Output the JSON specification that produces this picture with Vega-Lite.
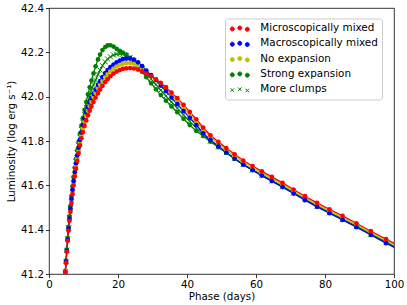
{
  "$schema": "https://vega.github.io/schema/vega-lite/v6.json",
  "autosize": {"type": "none"},
  "padding": {"left": 49, "top": 8, "right": 13, "bottom": 31},
  "width": 345,
  "height": 266,
  "config": {
    "font": "DejaVu Sans",
    "view": {"stroke": "#000000", "strokeWidth": 0.8},
    "axis": {
      "grid": false, "domain": false, "tickColor": "#000000", "tickWidth": 0.8, "tickSize": 3.5,
      "labelColor": "#000000", "labelFontSize": 10.3, "titleColor": "#000000", "titleFontSize": 10.3,
      "titleFontWeight": "normal", "labelFont": "DejaVu Sans", "titleFont": "DejaVu Sans"
    }
  },
  "data": {
    "values": [
      {"t": 4.51, "More clumps": 41.165, "Strong expansion": 41.165, "No expansion": 41.165, "Macroscopically mixed": 41.165, "Microscopically mixed": 41.165},
      {"t": 4.72, "More clumps": 41.21, "Strong expansion": 41.21, "No expansion": 41.21, "Macroscopically mixed": 41.21, "Microscopically mixed": 41.21},
      {"t": 4.94, "More clumps": 41.257, "Strong expansion": 41.26, "No expansion": 41.252, "Macroscopically mixed": 41.255, "Microscopically mixed": 41.25},
      {"t": 5.17, "More clumps": 41.307, "Strong expansion": 41.31, "No expansion": 41.302, "Macroscopically mixed": 41.305, "Microscopically mixed": 41.3},
      {"t": 5.41, "More clumps": 41.358, "Strong expansion": 41.362, "No expansion": 41.352, "Macroscopically mixed": 41.355, "Microscopically mixed": 41.35},
      {"t": 5.67, "More clumps": 41.408, "Strong expansion": 41.413, "No expansion": 41.4, "Macroscopically mixed": 41.405, "Microscopically mixed": 41.395},
      {"t": 5.93, "More clumps": 41.455, "Strong expansion": 41.46, "No expansion": 41.445, "Macroscopically mixed": 41.45, "Microscopically mixed": 41.44},
      {"t": 6.21, "More clumps": 41.5, "Strong expansion": 41.506, "No expansion": 41.487, "Macroscopically mixed": 41.495, "Microscopically mixed": 41.48},
      {"t": 6.51, "More clumps": 41.546, "Strong expansion": 41.552, "No expansion": 41.53, "Macroscopically mixed": 41.54, "Microscopically mixed": 41.52},
      {"t": 6.81, "More clumps": 41.587, "Strong expansion": 41.595, "No expansion": 41.57, "Macroscopically mixed": 41.58, "Microscopically mixed": 41.56},
      {"t": 7.13, "More clumps": 41.628, "Strong expansion": 41.638, "No expansion": 41.61, "Macroscopically mixed": 41.62, "Microscopically mixed": 41.6},
      {"t": 7.47, "More clumps": 41.669, "Strong expansion": 41.68, "No expansion": 41.65, "Macroscopically mixed": 41.66, "Microscopically mixed": 41.64},
      {"t": 7.82, "More clumps": 41.708, "Strong expansion": 41.72, "No expansion": 41.687, "Macroscopically mixed": 41.7, "Microscopically mixed": 41.675},
      {"t": 8.18, "More clumps": 41.745, "Strong expansion": 41.758, "No expansion": 41.722, "Macroscopically mixed": 41.735, "Microscopically mixed": 41.71},
      {"t": 8.57, "More clumps": 41.781, "Strong expansion": 41.796, "No expansion": 41.757, "Macroscopically mixed": 41.77, "Microscopically mixed": 41.745},
      {"t": 8.97, "More clumps": 41.817, "Strong expansion": 41.833, "No expansion": 41.792, "Macroscopically mixed": 41.805, "Microscopically mixed": 41.78},
      {"t": 9.4, "More clumps": 41.852, "Strong expansion": 41.87, "No expansion": 41.825, "Macroscopically mixed": 41.838, "Microscopically mixed": 41.812},
      {"t": 9.8, "More clumps": 41.885, "Strong expansion": 41.903, "No expansion": 41.857, "Macroscopically mixed": 41.872, "Microscopically mixed": 41.84},
      {"t": 10.3, "More clumps": 41.92, "Strong expansion": 41.94, "No expansion": 41.888, "Macroscopically mixed": 41.902, "Microscopically mixed": 41.868},
      {"t": 10.8, "More clumps": 41.952, "Strong expansion": 41.976, "No expansion": 41.913, "Macroscopically mixed": 41.93, "Microscopically mixed": 41.893},
      {"t": 11.3, "More clumps": 41.98, "Strong expansion": 42.01, "No expansion": 41.937, "Macroscopically mixed": 41.953, "Microscopically mixed": 41.916},
      {"t": 11.8, "More clumps": 42.006, "Strong expansion": 42.042, "No expansion": 41.958, "Macroscopically mixed": 41.974, "Microscopically mixed": 41.937},
      {"t": 12.3, "More clumps": 42.03, "Strong expansion": 42.073, "No expansion": 41.977, "Macroscopically mixed": 41.993, "Microscopically mixed": 41.956},
      {"t": 12.9, "More clumps": 42.053, "Strong expansion": 42.105, "No expansion": 41.998, "Macroscopically mixed": 42.013, "Microscopically mixed": 41.976},
      {"t": 13.5, "More clumps": 42.075, "Strong expansion": 42.137, "No expansion": 42.017, "Macroscopically mixed": 42.032, "Microscopically mixed": 41.995},
      {"t": 14.2, "More clumps": 42.1, "Strong expansion": 42.168, "No expansion": 42.038, "Macroscopically mixed": 42.053, "Microscopically mixed": 42.015},
      {"t": 14.8, "More clumps": 42.12, "Strong expansion": 42.19, "No expansion": 42.054, "Macroscopically mixed": 42.07, "Microscopically mixed": 42.032},
      {"t": 15.5, "More clumps": 42.14, "Strong expansion": 42.21, "No expansion": 42.071, "Macroscopically mixed": 42.088, "Microscopically mixed": 42.049},
      {"t": 16.3, "More clumps": 42.157, "Strong expansion": 42.224, "No expansion": 42.088, "Macroscopically mixed": 42.106, "Microscopically mixed": 42.066},
      {"t": 17.0, "More clumps": 42.17, "Strong expansion": 42.231, "No expansion": 42.102, "Macroscopically mixed": 42.12, "Microscopically mixed": 42.079},
      {"t": 17.8, "More clumps": 42.18, "Strong expansion": 42.232, "No expansion": 42.115, "Macroscopically mixed": 42.133, "Microscopically mixed": 42.092},
      {"t": 18.7, "More clumps": 42.188, "Strong expansion": 42.226, "No expansion": 42.127, "Macroscopically mixed": 42.145, "Microscopically mixed": 42.104},
      {"t": 19.6, "More clumps": 42.192, "Strong expansion": 42.216, "No expansion": 42.137, "Macroscopically mixed": 42.155, "Microscopically mixed": 42.113},
      {"t": 20.5, "More clumps": 42.193, "Strong expansion": 42.207, "No expansion": 42.144, "Macroscopically mixed": 42.163, "Microscopically mixed": 42.12},
      {"t": 21.4, "More clumps": 42.191, "Strong expansion": 42.199, "No expansion": 42.148, "Macroscopically mixed": 42.169, "Microscopically mixed": 42.125},
      {"t": 22.4, "More clumps": 42.186, "Strong expansion": 42.19, "No expansion": 42.151, "Macroscopically mixed": 42.172, "Microscopically mixed": 42.128},
      {"t": 23.5, "More clumps": 42.177, "Strong expansion": 42.175, "No expansion": 42.152, "Macroscopically mixed": 42.172, "Microscopically mixed": 42.129},
      {"t": 24.6, "More clumps": 42.163, "Strong expansion": 42.158, "No expansion": 42.149, "Macroscopically mixed": 42.167, "Microscopically mixed": 42.127},
      {"t": 25.8, "More clumps": 42.146, "Strong expansion": 42.135, "No expansion": 42.141, "Macroscopically mixed": 42.155, "Microscopically mixed": 42.122},
      {"t": 27.0, "More clumps": 42.126, "Strong expansion": 42.112, "No expansion": 42.129, "Macroscopically mixed": 42.138, "Microscopically mixed": 42.114},
      {"t": 28.2, "More clumps": 42.104, "Strong expansion": 42.088, "No expansion": 42.114, "Macroscopically mixed": 42.118, "Microscopically mixed": 42.104},
      {"t": 29.6, "More clumps": 42.079, "Strong expansion": 42.06, "No expansion": 42.096, "Macroscopically mixed": 42.097, "Microscopically mixed": 42.092},
      {"t": 31.0, "More clumps": 42.054, "Strong expansion": 42.033, "No expansion": 42.078, "Macroscopically mixed": 42.075, "Microscopically mixed": 42.078},
      {"t": 32.4, "More clumps": 42.029, "Strong expansion": 42.007, "No expansion": 42.057, "Macroscopically mixed": 42.05, "Microscopically mixed": 42.062},
      {"t": 33.9, "More clumps": 42.003, "Strong expansion": 41.982, "No expansion": 42.035, "Macroscopically mixed": 42.025, "Microscopically mixed": 42.043},
      {"t": 35.5, "More clumps": 41.976, "Strong expansion": 41.956, "No expansion": 42.008, "Macroscopically mixed": 41.996, "Microscopically mixed": 42.018},
      {"t": 37.2, "More clumps": 41.948, "Strong expansion": 41.93, "No expansion": 41.981, "Macroscopically mixed": 41.966, "Microscopically mixed": 41.993},
      {"t": 39.0, "More clumps": 41.918, "Strong expansion": 41.9, "No expansion": 41.951, "Macroscopically mixed": 41.935, "Microscopically mixed": 41.963},
      {"t": 40.8, "More clumps": 41.888, "Strong expansion": 41.872, "No expansion": 41.92, "Macroscopically mixed": 41.905, "Microscopically mixed": 41.931},
      {"t": 42.7, "More clumps": 41.858, "Strong expansion": 41.845, "No expansion": 41.887, "Macroscopically mixed": 41.872, "Microscopically mixed": 41.898},
      {"t": 44.7, "More clumps": 41.828, "Strong expansion": 41.822, "No expansion": 41.85, "Macroscopically mixed": 41.835, "Microscopically mixed": 41.86},
      {"t": 46.8, "More clumps": 41.8, "Strong expansion": 41.797, "No expansion": 41.817, "Macroscopically mixed": 41.805, "Microscopically mixed": 41.826},
      {"t": 49.1, "More clumps": 41.773, "Strong expansion": 41.772, "No expansion": 41.787, "Macroscopically mixed": 41.776, "Microscopically mixed": 41.796},
      {"t": 51.4, "More clumps": 41.747, "Strong expansion": 41.747, "No expansion": 41.759, "Macroscopically mixed": 41.748, "Microscopically mixed": 41.768},
      {"t": 53.8, "More clumps": 41.72, "Strong expansion": 41.721, "No expansion": 41.731, "Macroscopically mixed": 41.72, "Microscopically mixed": 41.74},
      {"t": 56.3, "More clumps": 41.694, "Strong expansion": 41.695, "No expansion": 41.704, "Macroscopically mixed": 41.693, "Microscopically mixed": 41.712},
      {"t": 59.0, "More clumps": 41.669, "Strong expansion": 41.67, "No expansion": 41.679, "Macroscopically mixed": 41.668, "Microscopically mixed": 41.687},
      {"t": 61.7, "More clumps": 41.645, "Strong expansion": 41.646, "No expansion": 41.655, "Macroscopically mixed": 41.644, "Microscopically mixed": 41.663},
      {"t": 64.6, "More clumps": 41.62, "Strong expansion": 41.622, "No expansion": 41.63, "Macroscopically mixed": 41.619, "Microscopically mixed": 41.638},
      {"t": 67.7, "More clumps": 41.593, "Strong expansion": 41.595, "No expansion": 41.603, "Macroscopically mixed": 41.592, "Microscopically mixed": 41.611},
      {"t": 70.9, "More clumps": 41.565, "Strong expansion": 41.567, "No expansion": 41.574, "Macroscopically mixed": 41.563, "Microscopically mixed": 41.581},
      {"t": 74.2, "More clumps": 41.535, "Strong expansion": 41.537, "No expansion": 41.544, "Macroscopically mixed": 41.533, "Microscopically mixed": 41.551},
      {"t": 77.7, "More clumps": 41.505, "Strong expansion": 41.507, "No expansion": 41.514, "Macroscopically mixed": 41.503, "Microscopically mixed": 41.521},
      {"t": 81.3, "More clumps": 41.476, "Strong expansion": 41.478, "No expansion": 41.485, "Macroscopically mixed": 41.474, "Microscopically mixed": 41.492},
      {"t": 85.1, "More clumps": 41.446, "Strong expansion": 41.448, "No expansion": 41.455, "Macroscopically mixed": 41.444, "Microscopically mixed": 41.462},
      {"t": 89.1, "More clumps": 41.413, "Strong expansion": 41.416, "No expansion": 41.422, "Macroscopically mixed": 41.411, "Microscopically mixed": 41.429},
      {"t": 93.3, "More clumps": 41.378, "Strong expansion": 41.381, "No expansion": 41.386, "Macroscopically mixed": 41.376, "Microscopically mixed": 41.393},
      {"t": 97.7, "More clumps": 41.341, "Strong expansion": 41.344, "No expansion": 41.35, "Macroscopically mixed": 41.339, "Microscopically mixed": 41.357},
      {"t": 102.3, "More clumps": 41.304, "Strong expansion": 41.307, "No expansion": 41.313, "Macroscopically mixed": 41.302, "Microscopically mixed": 41.32}
    ]
  },
  "transform": [
    {"fold": ["More clumps", "Strong expansion", "No expansion", "Macroscopically mixed", "Microscopically mixed"], "as": ["series", "L"]}
  ],
  "encoding": {
    "x": {
      "field": "t", "type": "quantitative",
      "scale": {"domain": [0, 100], "nice": false, "zero": false},
      "axis": {"title": "Phase (days)", "values": [0, 20, 40, 60, 80, 100], "format": "d", "labelFlush": false, "labelOverlap": false, "labelPadding": 1.5, "titlePadding": 2}
    },
    "y": {
      "field": "L", "type": "quantitative",
      "scale": {"domain": [41.2, 42.4], "nice": false, "zero": false},
      "axis": {"title": "Luminosity (log erg s⁻¹)", "values": [41.2, 41.4, 41.6, 41.8, 42.0, 42.2, 42.4], "format": ".1f", "labelOverlap": false, "labelPadding": 2, "titlePadding": 4}
    },
    "color": {
      "field": "series", "type": "nominal",
      "scale": {
        "domain": ["Microscopically mixed", "Macroscopically mixed", "No expansion", "Strong expansion", "More clumps"],
        "range": ["#ff0000", "#0000ff", "#bfbf00", "#008000", "#008000"]
      },
      "legend": {
        "title": null, "orient": "none", "legendX": 176, "legendY": 10.5,
        "padding": 4, "symbolSize": 100, "symbolOffset": 5.3, "labelOffset": 15, "rowPadding": 4.3,
        "labelFontSize": 10.4, "labelFont": "DejaVu Sans", "labelColor": "#000000", "labelLimit": 300,
        "strokeColor": "#cccccc", "fillColor": "rgba(255,255,255,0.8)", "cornerRadius": 3,
        "encode": {
          "symbols": {
            "update": {
              "shape": {"signal": "datum.value === 'More clumps' ? 'M-1.85,-0.17L-1.15,0.53M-1.85,0.53L-1.15,-0.17M-0.35,-0.35L0.35,0.35M-0.35,0.35L0.35,-0.35M1.15,-0.09L1.85,0.61M1.15,0.61L1.85,-0.09' : 'M-1.9,0.18a0.4,0.4 0 1,0 0.8,0a0.4,0.4 0 1,0 -0.8,0ZM-0.4,0a0.4,0.4 0 1,0 0.8,0a0.4,0.4 0 1,0 -0.8,0ZM1.1,0.26a0.4,0.4 0 1,0 0.8,0a0.4,0.4 0 1,0 -0.8,0Z'"},
              "fill": {"signal": "datum.value === 'More clumps' ? 'transparent' : scale('color', datum.value)"},
              "stroke": {"signal": "datum.value === 'More clumps' ? '#008000' : 'transparent'"},
              "strokeWidth": {"value": 1},
              "opacity": {"value": 1},
              "fillOpacity": {"value": 1},
              "strokeOpacity": {"value": 1}
            }
          }
        }
      }
    }
  },
  "layer": [
    {
      "mark": {"type": "line", "strokeWidth": 1.3, "clip": true}
    },
    {
      "transform": [{"filter": "datum.series === 'More clumps'"}],
      "mark": {"type": "point", "shape": "M-1,-1L1,1M-1,1L1,-1", "filled": false, "size": 25, "strokeWidth": 1, "opacity": 1, "clip": true}
    },
    {
      "transform": [{"filter": "datum.series !== 'More clumps'"}],
      "mark": {"type": "point", "shape": "circle", "filled": true, "size": 22, "opacity": 1, "clip": true}
    }
  ]
}
